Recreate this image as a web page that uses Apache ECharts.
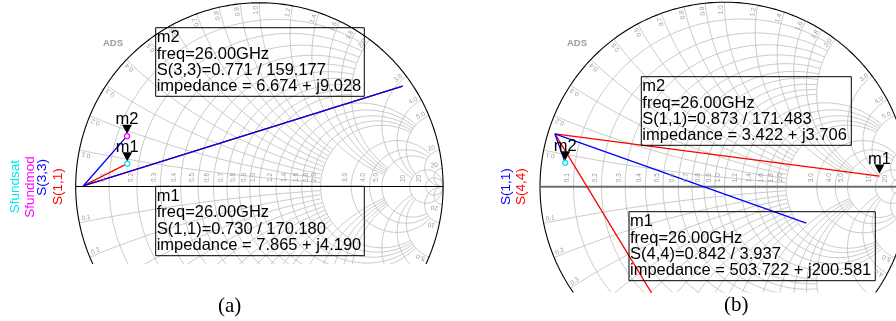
<!DOCTYPE html>
<html>
<head>
<meta charset="utf-8">
<script src="https://cdn.jsdelivr.net/npm/echarts@6/dist/echarts.min.js"></script>
<style>
html,body{margin:0;padding:0;background:#fff;}
#c{width:896px;height:321px;}
</style>
</head>
<body>
<div id="c"></div>
<script>
// Smith chart grid: normalized resistance / reactance values and their labels
const gridValues = [0.1,0.2,0.3,0.4,0.5,0.6,0.7,0.8,0.9,1.0,1.2,1.4,1.6,1.8,2.0,3.0,4.0,5.0,10,20];
const gridLabels = ['0.1','0.2','0.3','0.4','0.5','0.6','0.7','0.8','0.9','1.0','1.2','1.4','1.6','1.8','2.0','3.0','4.0','5.0','10','20'];

// Panel (a) markers (reflection coefficient magnitude / angle in degrees, impedance in ohms)
const markerNamesA = ['m1','m2'];
const markerTracesA = ['S(1,1)','S(3,3)'];
const markerMagA = [0.730, 0.771];
const markerAngA = [170.180, 159.177];
const markerZreA = [7.865, 6.674];
const markerZimA = [4.190, 9.028];

// Panel (b) markers
const markerNamesB = ['m2','m1'];
const markerTracesB = ['S(1,1)','S(4,4)'];
const markerMagB = [0.873, 0.842];
const markerAngB = [171.483, 3.937];
const markerZreB = [3.422, 503.722];
const markerZimB = [3.706, 200.581];

const markerFreq = '26.00GHz';

// Sweep points other than the marker frequency (Gamma re, im)
const traceA_S11 = [[0.780, 0.547], [-0.959, 0.003]];
const traceA_S33 = [[0.780, 0.547], [-0.959, 0.003]];
const traceB_S11 = [[0.443, -0.198], [-0.919, 0.286]];
const traceB_S44 = [[-0.242, -0.828], [-0.919, 0.286]];

// Legend entries
const legendA = ['Sfundsat','Sfundmod','S(3,3)','S(1,1)'];
const legendB = ['S(1,1)','S(4,4)'];

const FONT = '"Liberation Sans", Arial, sans-serif';
const GRID_COLOR = '#bdbdbd';

// panel geometry: chart centre / radius in px, clipping rectangle [left, top, width, height]
const panels = [
  {cx:259.4, cy:186.5, R:183.7, rect:[70,0,378,263.5], axisColor:'#000', axisWidth:1},
  {cx:724.5, cy:186.7, R:184.5, rect:[530,0,366,292], axisColor:'#6e6e6e', axisWidth:2}
];

function polar(mag, angDeg){
  const a = angDeg*Math.PI/180;
  return [mag*Math.cos(a), mag*Math.sin(a)];
}
function zOf(gr, gi){
  const d = (1-gr)*(1-gr) + gi*gi;
  return [(1-gr*gr-gi*gi)/d, 2*gi/d];
}
function limitOf(v){ return v <= 1.0001 ? 2 : v <= 2.0001 ? 5 : v <= 5.0001 ? 10 : Infinity; }

// sample a circle and keep the runs of points accepted by keep()
function runs(c0, c1, rho, t0, keep, N){
  const segs = []; let cur = null;
  for (let k=0;k<=N;k++){
    const t = t0 + 2*Math.PI*k/N;
    const p = [c0 + rho*Math.cos(t), c1 + rho*Math.sin(t)];
    if (keep(p)) { if(!cur){cur=[];segs.push(cur);} cur.push(p); }
    else cur = null;
  }
  return segs.filter(s => s.length > 1);
}

function smithGrid(){
  const segs = [];
  gridValues.forEach(v => {
    const lim = limitOf(v);
    // constant resistance circle
    segs.push(...runs(v/(v+1), 0, 1/(v+1), Math.PI, p => {
      if (lim === Infinity) return true;
      const z = zOf(p[0], p[1]);
      return Math.abs(z[1]) <= lim;
    }, 1600));
    // constant reactance arcs (+v and -v)
    [1,-1].forEach(s => {
      const x = s*v;
      segs.push(...runs(1, 1/x, 1/v, s>0 ? -Math.PI/2 : Math.PI/2, p => {
        if (p[0]*p[0]+p[1]*p[1] > 1+1e-9) return false;
        if (lim === Infinity) return true;
        const z = zOf(p[0], p[1]);
        return z[0] <= lim;
      }, 3000));
    });
  });
  return segs;
}

function unitCircle(){
  const pts = [];
  for (let k=0;k<=720;k++){ const t=2*Math.PI*k/720; pts.push([Math.cos(t), Math.sin(t)]); }
  return pts;
}

const chart = echarts.init(document.getElementById('c'));
const series = [];
const gridSegs = smithGrid();

panels.forEach((p, i) => {
  gridSegs.forEach(seg => series.push({
    type:'line', xAxisIndex:i, yAxisIndex:i, data:seg, symbol:'none', silent:true,
    lineStyle:{color:GRID_COLOR, width:0.8}, z:1
  }));
  series.push({type:'line', xAxisIndex:i, yAxisIndex:i, data:unitCircle(), symbol:'none', silent:true,
    lineStyle:{color:'#000', width:1.1}, z:2});
  series.push({type:'line', xAxisIndex:i, yAxisIndex:i, data:[[-1,0],[1,0]], symbol:'none', silent:true,
    lineStyle:{color:p.axisColor, width:p.axisWidth}, z:2});
});

function traceSeries(idx, pts, color, z){
  return {type:'line', xAxisIndex:idx, yAxisIndex:idx, data:pts, symbol:'none', silent:true,
    lineStyle:{color:color, width:1.3}, z:z};
}
function markerSeries(idx, name, pt){
  return {type:'scatter', xAxisIndex:idx, yAxisIndex:idx, data:[pt], symbol:'triangle', symbolRotate:180,
    symbolSize:[10,9], symbolOffset:[0,-7], itemStyle:{color:'#000', opacity:1}, silent:true, z:8,
    label:{show:true, position:'top', distance:-3.5, formatter:name, fontSize:16.5, color:'#000',
      opacity:1, fontFamily:FONT}};
}
function dotSeries(idx, pt, color){
  return {type:'scatter', xAxisIndex:idx, yAxisIndex:idx, data:[pt], symbol:'circle', symbolSize:5,
    itemStyle:{color:'#fff', borderColor:color, borderWidth:1.3, opacity:1}, silent:true, z:7};
}

// panel (a)
const pA1 = polar(markerMagA[0], markerAngA[0]);
const pA2 = polar(markerMagA[1], markerAngA[1]);
series.push(traceSeries(0, traceA_S11.concat([pA1]), '#ff0000', 5));
series.push(traceSeries(0, traceA_S33.concat([pA2]), '#0000ff', 6));
series.push(dotSeries(0, pA1, '#00e8ee'));
series.push(dotSeries(0, pA2, '#ff00ff'));
series.push(markerSeries(0, markerNamesA[0], pA1));
series.push(markerSeries(0, markerNamesA[1], pA2));

// panel (b)
const pB2 = polar(markerMagB[0], markerAngB[0]);
const pB1 = polar(markerMagB[1], markerAngB[1]);
series.push(traceSeries(1, traceB_S11.concat([pB2]), '#0000ff', 6));
series.push(traceSeries(1, [pB1].concat(traceB_S44.slice().reverse()), '#ff0000', 5));
series.push(dotSeries(1, pB2, '#00e8ee'));
series.push(markerSeries(1, markerNamesB[0], pB2));
series.push(markerSeries(1, markerNamesB[1], pB1));

chart.setOption({
  animation:false,
  backgroundColor:'#fff',
  grid: panels.map(p => ({left:p.rect[0], top:p.rect[1], width:p.rect[2], height:p.rect[3], show:false})),
  xAxis: panels.map((p,i) => ({type:'value', gridIndex:i, show:false,
    min:(p.rect[0]-p.cx)/p.R, max:(p.rect[0]+p.rect[2]-p.cx)/p.R})),
  yAxis: panels.map((p,i) => ({type:'value', gridIndex:i, show:false,
    min:(p.cy-p.rect[1]-p.rect[3])/p.R, max:(p.cy-p.rect[1])/p.R})),
  series: series
});

// ---- text overlays ----
const graphics = [];
function txt(x, y, text, opts){
  graphics.push(Object.assign({type:'text', x:x, y:y, silent:true, z:20,
    style:Object.assign({text:text, fill:'#000', font:'16.5px '+FONT}, opts.style||{})}, opts.el||{}));
}

panels.forEach((p, i) => {
  const toPx = pt => chart.convertToPixel({xAxisIndex:i, yAxisIndex:i}, pt);
  const bottom = p.rect[1] + p.rect[3];
  gridValues.forEach((v, k) => {
    // resistance labels along the real axis
    const q = toPx([(v-1)/(v+1), 0]);
    txt(q[0]-2.5, q[1]-4.5, gridLabels[k], {el:{rotation:Math.PI/2},
      style:{font:'6.5px '+FONT, fill:'#9a9a9a', align:'left', verticalAlign:'bottom'}});
    // reactance labels just inside the rim
    [1,-1].forEach(s => {
      const th = s*(Math.PI - 2*Math.atan(v));
      const rim = toPx([Math.cos(th), Math.sin(th)]);
      const inw = [-Math.cos(th), Math.sin(th)];
      const tan = s>0 ? [-Math.sin(th), -Math.cos(th)] : [Math.sin(th), Math.cos(th)];
      const lx = rim[0] + 7.5*inw[0] + 3.5*tan[0];
      const ly = rim[1] + 7.5*inw[1] + 3.5*tan[1];
      if (ly > bottom - 3 || lx > 893) return;
      txt(lx, ly, gridLabels[k], {el:{rotation: s>0 ? th : th+Math.PI},
        style:{font:'6.5px '+FONT, fill:'#9a9a9a', align:'center', verticalAlign:'middle'}});
    });
  });
});

// "ADS" tags
txt(113, 43, 'ADS', {style:{font:'bold 9.5px '+FONT, fill:'#9a9a9a', align:'center', verticalAlign:'middle'}});
txt(577, 43, 'ADS', {style:{font:'bold 9.5px '+FONT, fill:'#9a9a9a', align:'center', verticalAlign:'middle'}});

// vertical legends
const legendColorsA = ['#00e8ee','#ff00ff','#0000ff','#ff0000'];
const legendPosA = [[15.5,213.3],[30,217.7],[42.5,195.7],[58,205]];
legendA.forEach((t,k) => txt(legendPosA[k][0], legendPosA[k][1], t, {el:{rotation:Math.PI/2},
  style:{font:'13.5px '+FONT, fill:legendColorsA[k], align:'left', verticalAlign:'middle'}}));
const legendColorsB = ['#0000ff','#ff0000'];
const legendPosB = [[506,205],[521,205]];
legendB.forEach((t,k) => txt(legendPosB[k][0], legendPosB[k][1], t, {el:{rotation:Math.PI/2},
  style:{font:'13.5px '+FONT, fill:legendColorsB[k], align:'left', verticalAlign:'middle'}}));

// marker readout boxes
function readout(box, name, trace, mag, ang, zre, zim){
  graphics.push({type:'rect', silent:true, z:19, shape:{x:box[0], y:box[1], width:box[2], height:box[3]},
    style:{fill:'none', stroke:'#000', lineWidth:1}});
  const lines = [name, 'freq=' + markerFreq, trace + '=' + mag.toFixed(3) + ' / ' + ang.toFixed(3),
    'impedance = ' + zre.toFixed(3) + ' + j' + zim.toFixed(3)];
  txt(box[0]+1, box[1]+2.1, lines.join('\n'), {style:{font:'16.5px '+FONT, lineHeight:16.3,
    align:'left', verticalAlign:'top'}});
}
readout([155.7,186.3,208.6,69.4], markerNamesA[0], markerTracesA[0], markerMagA[0], markerAngA[0], markerZreA[0], markerZimA[0]);
readout([155.7,27.7,208.6,68.6], markerNamesA[1], markerTracesA[1], markerMagA[1], markerAngA[1], markerZreA[1], markerZimA[1]);
readout([641.3,76.7,210,68.6], markerNamesB[0], markerTracesB[0], markerMagB[0], markerAngB[0], markerZreB[0], markerZimB[0]);
readout([629,211.7,246.3,69], markerNamesB[1], markerTracesB[1], markerMagB[1], markerAngB[1], markerZreB[1], markerZimB[1]);

// sub-figure captions
txt(229.7, 306, '(a)', {style:{font:'21px "Liberation Serif", "Times New Roman", serif', align:'center', verticalAlign:'middle'}});
txt(736.3, 305.5, '(b)', {style:{font:'21px "Liberation Serif", "Times New Roman", serif', align:'center', verticalAlign:'middle'}});

chart.setOption({graphic: graphics});
</script>
</body>
</html>
